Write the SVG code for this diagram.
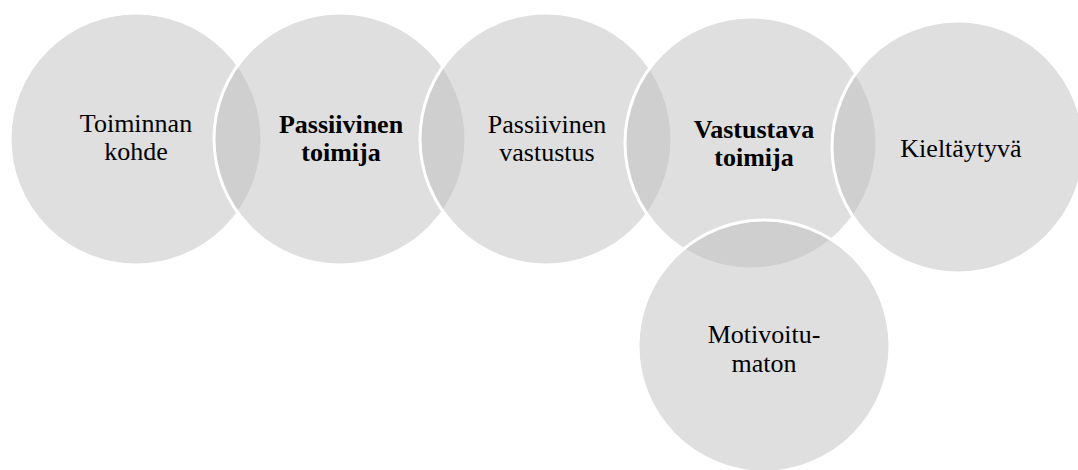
<svg xmlns="http://www.w3.org/2000/svg" width="1078" height="470" viewBox="0 0 1078 470">
  <style>
    .c { fill: #bfbfbf; fill-opacity: 0.5; stroke: #ffffff; stroke-width: 3; }
    .t { font-family: "Liberation Serif", "Times New Roman", serif; font-size: 26px; fill: #000000; text-anchor: middle; }
    .b { font-weight: bold; }
  </style>
  <rect width="1078" height="470" fill="#ffffff"/>
  <g id="node1">
    <circle class="c" cx="136" cy="139" r="126"/>
    <text class="t" x="136" y="132">Toiminnan</text>
    <text class="t" x="136" y="160">kohde</text>
  </g>
  <g id="node2">
    <circle class="c" cx="340" cy="139" r="126"/>
    <text class="t b" x="341" y="133">Passiivinen</text>
    <text class="t b" x="341" y="161">toimija</text>
  </g>
  <g id="node3">
    <circle class="c" cx="546" cy="139" r="126"/>
    <text class="t" x="547" y="133">Passiivinen</text>
    <text class="t" x="547" y="161">vastustus</text>
  </g>
  <g id="node4">
    <circle class="c" cx="751" cy="143" r="126"/>
    <text class="t b" x="754" y="138">Vastustava</text>
    <text class="t b" x="754" y="166">toimija</text>
  </g>
  <g id="node5">
    <circle class="c" cx="958" cy="147" r="126"/>
    <text class="t" x="961" y="157">Kieltäytyvä</text>
  </g>
  <g id="node6">
    <circle class="c" cx="764" cy="346" r="126"/>
    <text class="t" x="764" y="343">Motivoitu-</text>
    <text class="t" x="764" y="372">maton</text>
  </g>
  <g id="connectors"></g>
</svg>
